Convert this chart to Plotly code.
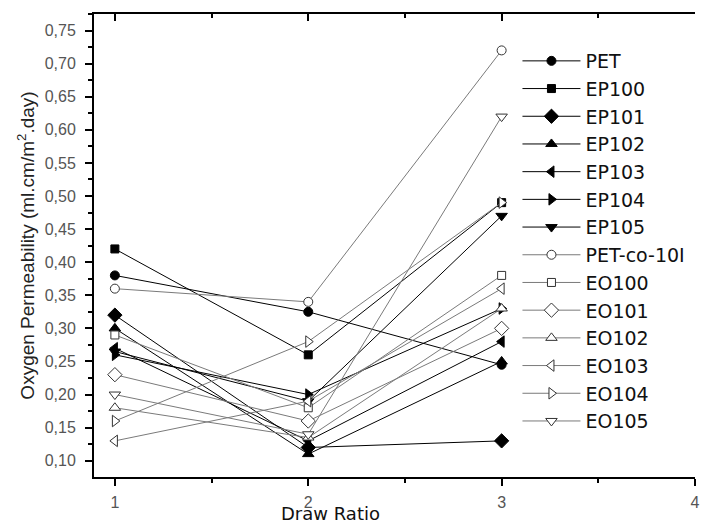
import plotly.graph_objects as go

# ---- data ----
draw_ratio = [1, 2, 3]
series_names = ["PET", "EP100", "EP101", "EP102", "EP103", "EP104", "EP105",
                "PET-co-10I", "EO100", "EO101", "EO102", "EO103", "EO104", "EO105"]
PET = [0.38, 0.325, 0.245]
EP100 = [0.42, 0.26, 0.49]
EP101 = [0.32, 0.12, 0.13]
EP102 = [0.30, 0.11, 0.25]
EP103 = [0.27, 0.13, 0.28]
EP104 = [0.26, 0.20, 0.33]
EP105 = [0.265, 0.19, 0.47]
PET_co_10I = [0.36, 0.34, 0.72]
EO100 = [0.29, 0.18, 0.38]
EO101 = [0.23, 0.16, 0.30]
EO102 = [0.18, 0.135, 0.33]
EO103 = [0.13, 0.19, 0.36]
EO104 = [0.16, 0.28, 0.49]
EO105 = [0.20, 0.14, 0.62]
values = [PET, EP100, EP101, EP102, EP103, EP104, EP105,
          PET_co_10I, EO100, EO101, EO102, EO103, EO104, EO105]

y_ticks = [0.10, 0.15, 0.20, 0.25, 0.30, 0.35, 0.40, 0.45, 0.50, 0.55, 0.60, 0.65, 0.70, 0.75]
x_ticks = [1, 2, 3, 4]

# ---- styles ----
symbols = ["circle", "square", "diamond", "triangle-up", "triangle-left", "triangle-right",
           "triangle-down"] * 2
sizes = [9, 8, 11, 10, 10, 10, 10] * 2
FONT = "Liberation Sans, Arial, sans-serif"
WIDE = "DejaVu Sans, Verdana, sans-serif"

fig = go.Figure()
for i, (name, vals) in enumerate(zip(series_names, values)):
    filled = i < 7
    fig.add_trace(go.Scatter(
        x=draw_ratio, y=vals, name=name, mode="lines+markers",
        line=dict(color="#000000" if filled else "#7a7a7a", width=1),
        marker=dict(symbol=symbols[i], size=sizes[i],
                    color="#000000" if filled else "#ffffff",
                    line=dict(color="#000000" if filled else "#333333", width=1)),
    ))

# invisible trace for the top (mirrored) axis ticks
fig.add_trace(go.Scatter(x=[1, 4], y=[0.5, 0.5], xaxis="x2", mode="markers",
                         marker=dict(opacity=0), showlegend=False, hoverinfo="skip"))

fig.update_layout(
    width=701, height=527,
    margin=dict(l=94, r=1, t=14, b=50),
    paper_bgcolor="white", plot_bgcolor="white",
    separators=", ",
    font=dict(family=FONT, color="#000000"),
    showlegend=True,
    legend=dict(x=0.7046, y=0.9395, xanchor="left", yanchor="top",
                bgcolor="rgba(0,0,0,0)", font=dict(size=19, family=WIDE, color="#111"),
                itemwidth=58, traceorder="normal"),
    xaxis=dict(range=[0.892, 4.0], tickvals=x_ticks, ticktext=[str(v) for v in x_ticks],
               ticks="outside", ticklen=7, tickwidth=2, tickcolor="#000",
               ticklabeloverflow="allow", ticklabelstandoff=3,
               minor=dict(ticks="outside", dtick=0.5, tick0=1, ticklen=4, tickwidth=2, tickcolor="#000"),
               showline=True, linecolor="#000", linewidth=2, mirror=True,
               showgrid=False, zeroline=False,
               tickfont=dict(size=16, color="#555", family=FONT)),
    xaxis2=dict(range=[0.892, 4.0], overlaying="x", side="top", tickvals=x_ticks,
                showticklabels=False, ticks="inside", ticklen=7, tickwidth=2, tickcolor="#000",
                minor=dict(ticks="inside", dtick=0.5, tick0=1, ticklen=4, tickwidth=2, tickcolor="#000"),
                showline=False, showgrid=False, zeroline=False),
    yaxis=dict(range=[0.0754, 0.775], tickvals=y_ticks, tickformat=".2f",
               ticks="outside", ticklen=7, tickwidth=2, tickcolor="#000",
               ticklabelstandoff=6,
               minor=dict(ticks="outside", dtick=0.025, tick0=0.1, ticklen=4, tickwidth=2, tickcolor="#000"),
               showline=True, linecolor="#000", linewidth=2, mirror=False,
               showgrid=False, zeroline=False,
               tickfont=dict(size=16, color="#555", family=FONT),
               title=dict(text="Oxygen Permeability (ml.cm/m<sup>2</sup>.day)",
                          font=dict(size=19, color="#222", family=FONT), standoff=5)),
    annotations=[dict(text="Draw Ratio", xref="paper", yref="paper", x=0.393, y=-0.106,
                      xanchor="center", yanchor="bottom", showarrow=False,
                      font=dict(size=18, color="#111", family=WIDE))],
)

fig.write_html("out.html",
               config={"displayModeBar": False},
               post_script="document.body.style.margin='0px';document.body.style.overflow='hidden';")
